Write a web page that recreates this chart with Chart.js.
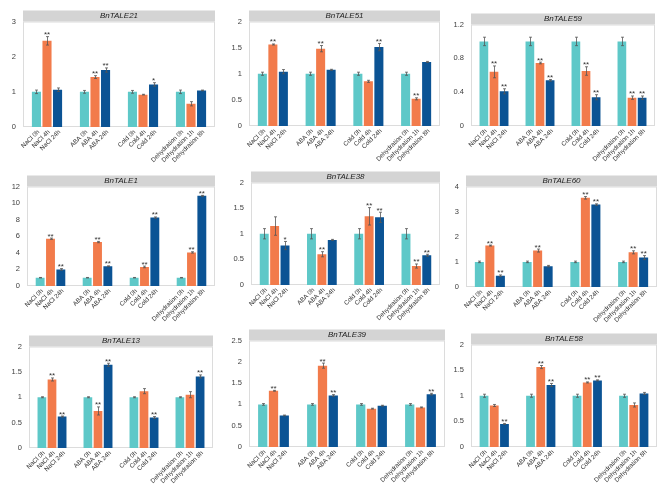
<!DOCTYPE html>
<html><head><meta charset="utf-8">
<script src="https://cdn.jsdelivr.net/npm/chart.js@4.4.0/dist/chart.umd.min.js"></script>
<style>
html,body{margin:0;padding:0;background:#fff;width:669px;height:493px;overflow:hidden;position:relative}
canvas{position:absolute}
</style></head><body>
<script>
// ---- data ----
const groups = ['NaCl', 'ABA', 'Cold', 'Dehydration'];
const barLabels = ['NaCl 0h', 'NaCl 4h', 'NaCl 24h', 'ABA 0h', 'ABA 4h', 'ABA 24h',
  'Cold 0h', 'Cold 4h', 'Cold 24h', 'Dehydration 0h', 'Dehydration 1h', 'Dehydration 8h'];
const seriesNames = ['control', 'early', 'late'];
const seriesColors = ['#5ec8c8', '#f27b4b', '#0b5394'];

const geneNames = ['BnTALE21', 'BnTALE51', 'BnTALE59', 'BnTALE1', 'BnTALE38', 'BnTALE60', 'BnTALE13', 'BnTALE39', 'BnTALE58'];

const tale21Mean = [1, 2.45, 1.06, 1, 1.42, 1.62, 1, 0.92, 1.21, 1, 0.66, 1.04];
const tale21Err  = [0.05, 0.12, 0.05, 0.04, 0.04, 0.06, 0.04, 0.01, 0.05, 0.05, 0.06, 0.01];
const tale21Sig  = ['', '**', '', '', '**', '**', '', '', '*', '', '', ''];

const tale51Mean = [1, 1.56, 1.04, 1, 1.48, 1.075, 1, 0.855, 1.51, 1, 0.52, 1.226];
const tale51Err  = [0.03, 0.01, 0.04, 0.03, 0.06, 0.01, 0.03, 0.02, 0.07, 0.03, 0.02, 0.01];
const tale51Sig  = ['', '**', '', '', '**', '', '', '', '**', '', '**', ''];

const tale59Mean = [1, 0.64, 0.41, 1, 0.745, 0.54, 1, 0.65, 0.34, 1, 0.335, 0.335];
const tale59Err  = [0.05, 0.07, 0.03, 0.05, 0.01, 0.01, 0.05, 0.05, 0.03, 0.05, 0.02, 0.02];
const tale59Sig  = ['', '**', '**', '', '**', '**', '', '**', '**', '', '**', '**'];

const tale1Mean = [1, 5.7, 2.0, 1, 5.3, 2.38, 1, 2.3, 8.25, 1, 4.05, 10.87];
const tale1Err  = [0.03, 0.08, 0.1, 0.03, 0.08, 0.05, 0.03, 0.1, 0.08, 0.03, 0.08, 0.06];
const tale1Sig  = ['', '**', '**', '', '**', '**', '', '**', '**', '', '**', '**'];

const tale38Mean = [1, 1.15, 0.77, 1, 0.6, 0.88, 1, 1.34, 1.32, 1, 0.37, 0.58];
const tale38Err  = [0.1, 0.18, 0.08, 0.1, 0.05, 0.01, 0.1, 0.17, 0.1, 0.1, 0.04, 0.02];
const tale38Sig  = ['', '', '*', '', '**', '', '', '**', '**', '', '**', '**'];

const tale60Mean = [1, 1.65, 0.45, 1, 1.45, 0.83, 1, 3.55, 3.28, 1, 1.38, 1.17];
const tale60Err  = [0.03, 0.02, 0.03, 0.03, 0.06, 0.03, 0.03, 0.05, 0.03, 0.03, 0.06, 0.08];
const tale60Sig  = ['', '**', '**', '', '**', '', '', '**', '**', '', '**', '**'];

const tale13Mean = [1, 1.35, 0.62, 1, 0.73, 1.64, 1, 1.12, 0.6, 1, 1.05, 1.41];
const tale13Err  = [0.01, 0.03, 0.01, 0.01, 0.08, 0.03, 0.01, 0.05, 0.02, 0.01, 0.06, 0.03];
const tale13Sig  = ['', '**', '**', '', '**', '**', '', '', '**', '', '', '**'];

const tale39Mean = [1, 1.32, 0.74, 1, 1.91, 1.21, 1, 0.9, 0.97, 1, 0.93, 1.24];
const tale39Err  = [0.02, 0.01, 0.01, 0.02, 0.06, 0.02, 0.02, 0.01, 0.01, 0.02, 0.01, 0.02];
const tale39Sig  = ['', '**', '', '', '**', '**', '', '', '', '', '', '**'];

const tale58Mean = [1, 0.81, 0.45, 1, 1.56, 1.21, 1, 1.26, 1.3, 1, 0.82, 1.045];
const tale58Err  = [0.03, 0.02, 0.01, 0.03, 0.03, 0.03, 0.03, 0.01, 0.01, 0.03, 0.04, 0.02];
const tale58Sig  = ['', '', '**', '', '**', '**', '', '**', '**', '', '', ''];

const axisMax  = [3, 2, 1.2, 12, 2, 4, 2, 2.5, 2];
const axisStep = [1, 0.5, 0.4, 2, 0.5, 1, 0.5, 0.5, 0.5];

// ---- layout (plot left, right, strip top, plot bottom) ----
const frames = [
  [23, 215, 10, 127], [249, 440, 10, 126], [471, 655, 13, 126],
  [27, 215, 175, 286], [251, 440, 171, 285], [466, 657, 175, 287],
  [29, 213, 335, 448], [249, 445, 329, 447], [471, 657, 333, 447]
];
const means = [tale21Mean, tale51Mean, tale59Mean, tale1Mean, tale38Mean, tale60Mean, tale13Mean, tale39Mean, tale58Mean];
const errs  = [tale21Err, tale51Err, tale59Err, tale1Err, tale38Err, tale60Err, tale13Err, tale39Err, tale58Err];
const sigs  = [tale21Sig, tale51Sig, tale59Sig, tale1Sig, tale38Sig, tale60Sig, tale13Sig, tale39Sig, tale58Sig];

const FONT = '"Liberation Sans", Arial, sans-serif';
const STRIP = 11, YW = 25, XH = 40, PR = 3;

const panelPlugin = {
  id: 'panel',
  beforeDraw(chart, args, o) {
    const { ctx, chartArea: a } = chart;
    ctx.save();
    ctx.fillStyle = '#d4d4d4';
    ctx.fillRect(a.left, a.top - STRIP, a.right - a.left, STRIP);
    ctx.fillStyle = '#222';
    ctx.font = 'italic 8px ' + FONT;
    ctx.textAlign = 'center';
    ctx.textBaseline = 'middle';
    ctx.fillText(o.title, (a.left + a.right) / 2, a.top - STRIP / 2);
    ctx.strokeStyle = '#dcdcdc';
    ctx.lineWidth = 1;
    ctx.strokeRect(a.left + 0.5, a.top + 0.5, a.right - a.left - 1, a.bottom - a.top - 1);
    ctx.restore();
  },
  afterDatasetsDraw(chart, args, o) {
    const { ctx } = chart;
    const ys = chart.scales.y;
    ctx.save();
    chart.data.datasets.forEach((ds, di) => {
      const meta = chart.getDatasetMeta(di);
      meta.data.forEach((bar, gi) => {
        const k = gi * 3 + di;
        const v = ds.data[gi], e = o.err[k];
        const yt = ys.getPixelForValue(v + e), yb = ys.getPixelForValue(v - e);
        const x = Math.round(bar.x) + 0.5;
        ctx.strokeStyle = '#555';
        ctx.lineWidth = 0.8;
        ctx.beginPath();
        ctx.moveTo(x, yt); ctx.lineTo(x, yb);
        ctx.moveTo(x - 1.5, yt); ctx.lineTo(x + 1.5, yt);
        ctx.moveTo(x - 1.5, yb); ctx.lineTo(x + 1.5, yb);
        ctx.stroke();
        if (o.sig[k]) {
          ctx.fillStyle = '#333';
          ctx.font = '8px ' + FONT;
          ctx.textAlign = 'center';
          ctx.textBaseline = 'alphabetic';
          ctx.fillText(o.sig[k], bar.x, yt + 0.5);
        }
      });
    });
    ctx.restore();
  },
  afterDraw(chart, args, o) {
    const { ctx, chartArea: a } = chart;
    ctx.save();
    ctx.fillStyle = '#333';
    ctx.font = '6.3px ' + FONT;
    ctx.textAlign = 'right';
    ctx.textBaseline = 'middle';
    chart.data.datasets.forEach((ds, di) => {
      const meta = chart.getDatasetMeta(di);
      meta.data.forEach((bar, gi) => {
        ctx.save();
        ctx.translate(bar.x + 2, a.bottom + 4);
        ctx.rotate(-Math.PI / 4);
        ctx.fillText(barLabels[gi * 3 + di], 0, 0);
        ctx.restore();
      });
    });
    ctx.restore();
  }
};

geneNames.forEach((name, p) => {
  const [L, R, T, B] = frames[p];
  const cv = document.createElement('canvas');
  const w = R - L + YW + PR, h = B - T + XH;
  cv.width = w; cv.height = h;
  cv.style.left = (L - YW) + 'px';
  cv.style.top = T + 'px';
  cv.style.width = w + 'px'; cv.style.height = h + 'px';
  document.body.appendChild(cv);
  const datasets = seriesNames.map((s, di) => ({
    label: s,
    data: groups.map((g, gi) => means[p][gi * 3 + di]),
    backgroundColor: seriesColors[di],
    borderWidth: 0,
    categoryPercentage: 0.66,
    barPercentage: 0.86
  }));
  new Chart(cv, {
    type: 'bar',
    data: { labels: groups, datasets },
    options: {
      responsive: false,
      animation: false,
      devicePixelRatio: 1,
      layout: { padding: { top: STRIP, right: PR, bottom: XH, left: 0 } },
      plugins: {
        legend: { display: false },
        tooltip: { enabled: false },
        panel: { title: name, err: errs[p], sig: sigs[p] }
      },
      scales: {
        x: { display: false },
        y: {
          min: 0, max: axisMax[p],
          grid: { display: false, drawTicks: false },
          border: { display: false },
          afterFit: s => { s.width = YW; },
          ticks: {
            stepSize: axisStep[p],
            padding: 7,
            color: '#404040',
            font: { size: 7.5, family: FONT },
            callback: v => String(+v.toFixed(2))
          }
        }
      }
    },
    plugins: [panelPlugin]
  });
});
</script>
</body></html>
